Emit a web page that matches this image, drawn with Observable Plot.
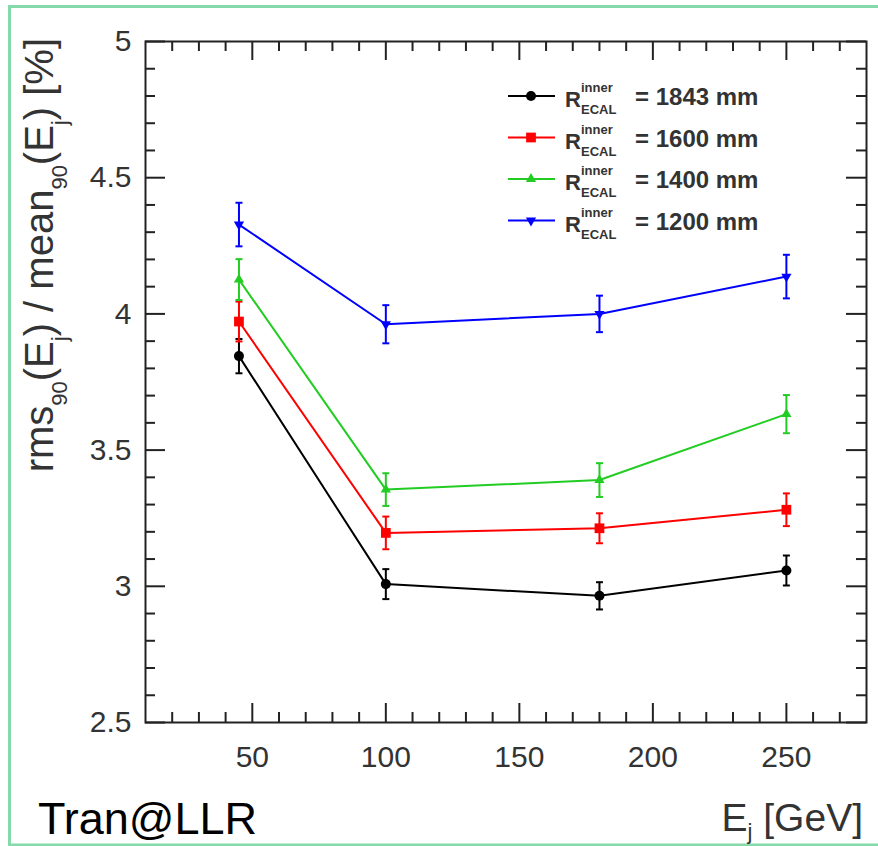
<!DOCTYPE html>
<html>
<head>
<meta charset="utf-8">
<script src="https://cdn.jsdelivr.net/npm/d3@7"></script>
<script src="https://cdn.jsdelivr.net/npm/@observablehq/plot@0.6"></script>
<style>
  html, body { margin: 0; padding: 0; background: #fff; }
  #chart { width: 878px; height: 846px; }
</style>
</head>
<body>
<div id="chart"></div>
<script>
// ---- data ----
const energies = [45, 100, 180, 250];
const seriesNames = ["1843", "1600", "1400", "1200"];
const res1843 = [3.845, 3.008, 2.965, 3.058];
const err1843 = [0.063, 0.055, 0.05, 0.055];
const res1600 = [3.972, 3.196, 3.213, 3.281];
const err1600 = [0.073, 0.06, 0.055, 0.06];
const res1400 = [4.126, 3.355, 3.39, 3.632];
const err1400 = [0.075, 0.06, 0.062, 0.07];
const res1200 = [4.328, 3.962, 4.0, 4.137];
const err1200 = [0.08, 0.07, 0.067, 0.08];
const xMajorTicks = [50, 100, 150, 200, 250];
const xMinorTicks = [20, 30, 40, 60, 70, 80, 90, 110, 120, 130, 140, 160, 170, 180, 190, 210, 220, 230, 240, 260, 270];
const yMajorTicks = [2.5, 3, 3.5, 4, 4.5, 5];
const yMinorTicks = [2.6, 2.7, 2.8, 2.9, 3.1, 3.2, 3.3, 3.4, 3.6, 3.7, 3.8, 3.9, 4.1, 4.2, 4.3, 4.4, 4.6, 4.7, 4.8, 4.9];

const colors = ["#000000", "#ff0000", "#22cc22", "#0000ff"];
const symbols = ["circle", "square", "triangle", "triangle"];
const rotations = [0, 0, 0, 180];
const radii = [5, 5.5, 3.8, 3.8];
const values = [res1843, res1600, res1400, res1200];
const errors = [err1843, err1600, err1400, err1200];

const W = 878, H = 846;
const mL = 145, mR = 12, mT = 41, mB = 124;
const fw = W - mL - mR, fh = H - mT - mB;
const font = "'Liberation Sans', Arial, Helvetica, sans-serif";

const capSymbol = {
  draw(ctx, size) {
    const w = Math.sqrt(size / Math.PI);
    ctx.moveTo(-w, 0);
    ctx.lineTo(w, 0);
  }
};

const marks = [];
// ticks (ROOT style, inward on all four sides)
marks.push(Plot.tickX(xMajorTicks, {x: d => d, insetTop: fh - 19, stroke: "#222", strokeWidth: 2}));
marks.push(Plot.tickX(xMinorTicks, {x: d => d, insetTop: fh - 10, stroke: "#222", strokeWidth: 2}));
marks.push(Plot.tickX(xMajorTicks, {x: d => d, insetBottom: fh - 19, stroke: "#222", strokeWidth: 2}));
marks.push(Plot.tickX(xMinorTicks, {x: d => d, insetBottom: fh - 10, stroke: "#222", strokeWidth: 2}));
marks.push(Plot.tickY(yMajorTicks, {y: d => d, insetRight: fw - 20, stroke: "#222", strokeWidth: 2}));
marks.push(Plot.tickY(yMinorTicks, {y: d => d, insetRight: fw - 10, stroke: "#222", strokeWidth: 2}));
marks.push(Plot.tickY(yMajorTicks, {y: d => d, insetLeft: fw - 20, stroke: "#222", strokeWidth: 2}));
marks.push(Plot.tickY(yMinorTicks, {y: d => d, insetLeft: fw - 10, stroke: "#222", strokeWidth: 2}));

marks.push(Plot.axisX({ticks: xMajorTicks, tickSize: 0, tickPadding: 23, fontSize: 30, fill: "#333", label: null, tickFormat: d => String(d)}));
marks.push(Plot.axisY({ticks: yMajorTicks, tickSize: 0, tickPadding: 14, fontSize: 30, fill: "#333", label: null, tickFormat: d => String(d)}));

seriesNames.forEach((name, i) => {
  const rows = energies.map((e, k) => ({
    x: e, y: values[i][k], lo: values[i][k] - errors[i][k], hi: values[i][k] + errors[i][k]
  }));
  marks.push(Plot.line(rows, {x: "x", y: "y", stroke: colors[i], strokeWidth: 2}));
  marks.push(Plot.ruleX(rows, {x: "x", y1: "lo", y2: "hi", stroke: colors[i], strokeWidth: 2}));
  marks.push(Plot.dot(rows, {x: "x", y: "lo", symbol: capSymbol, r: 3.5, stroke: colors[i], strokeWidth: 2}));
  marks.push(Plot.dot(rows, {x: "x", y: "hi", symbol: capSymbol, r: 3.5, stroke: colors[i], strokeWidth: 2}));
  marks.push(Plot.dot(rows, {x: "x", y: "y", symbol: symbols[i], rotate: rotations[i], r: radii[i], fill: colors[i], stroke: "none"}));
});

marks.push(Plot.frame({stroke: "#222", strokeWidth: 2}));

const svg = Plot.plot({
  width: W, height: H,
  marginLeft: mL, marginRight: mR, marginTop: mT, marginBottom: mB,
  style: {fontFamily: font, background: "#fff", overflow: "visible"},
  x: {domain: [10, 280]},
  y: {domain: [2.5, 5]},
  marks
});
document.getElementById("chart").appendChild(svg);

const s = d3.select(svg);

// green border of the picture
s.append("rect").attr("x", 9.5).attr("y", 6.5).attr("width", W + 10).attr("height", 838.5)
  .attr("fill", "none").attr("stroke", "#86d9ab").attr("stroke-width", 3);

// y-axis title
const yt = s.append("text")
  .attr("transform", "translate(53,38) rotate(-90)")
  .attr("text-anchor", "end")
  .attr("font-family", font).attr("font-size", 40).attr("fill", "#333");
const ySub = 22, ySh = 14;
yt.append("tspan").text("rms");
yt.append("tspan").attr("font-size", ySub).attr("dy", ySh).text("90");
yt.append("tspan").attr("dy", -ySh).text("(E");
yt.append("tspan").attr("font-size", ySub).attr("dy", ySh).text("j");
yt.append("tspan").attr("dy", -ySh).text(") / mean");
yt.append("tspan").attr("font-size", ySub).attr("dy", ySh).text("90");
yt.append("tspan").attr("dy", -ySh).text("(E");
yt.append("tspan").attr("font-size", ySub).attr("dy", ySh).text("j");
yt.append("tspan").attr("dy", -ySh).text(") [%]");

// x-axis title
const xt = s.append("text")
  .attr("x", 863).attr("y", 831)
  .attr("text-anchor", "end")
  .attr("font-family", font).attr("font-size", 39).attr("fill", "#333");
xt.append("tspan").text("E");
xt.append("tspan").attr("font-size", 22).attr("dy", 8).text("j");
xt.append("tspan").attr("dy", -8).text(" [GeV]");

// legend
seriesNames.forEach((name, i) => {
  const y = 96 + i * 41.5;
  const g = s.append("g").attr("text-anchor", "start");
  g.append("line").attr("x1", 508).attr("x2", 555).attr("y1", y).attr("y2", y)
    .attr("stroke", colors[i]).attr("stroke-width", 2);
  const symType = {circle: d3.symbolCircle, square: d3.symbolSquare, triangle: d3.symbolTriangle}[symbols[i]];
  g.append("path").attr("d", d3.symbol(symType, radii[i] * radii[i] * Math.PI)())
    .attr("transform", `translate(531,${y}) rotate(${rotations[i]})`)
    .attr("fill", colors[i]);
  g.append("text").attr("x", 565).attr("y", y + 11).attr("font-family", font).attr("text-anchor", "start")
    .attr("font-size", 22).attr("font-weight", "bold").attr("fill", "#333").text("R");
  g.append("text").attr("x", 581).attr("y", y - 4).attr("font-family", font).attr("text-anchor", "start")
    .attr("font-size", 13).attr("font-weight", "bold").attr("fill", "#333").text("inner");
  g.append("text").attr("x", 581).attr("y", y + 18).attr("font-family", font).attr("text-anchor", "start")
    .attr("font-size", 13).attr("font-weight", "bold").attr("fill", "#333").text("ECAL");
  g.append("text").attr("x", 635).attr("y", y + 9).attr("font-family", font).attr("text-anchor", "start")
    .attr("font-size", 24).attr("font-weight", "bold").attr("fill", "#333").text("= " + name + " mm");
});

// credit
s.append("text").attr("x", 38).attr("y", 834).attr("font-family", font).attr("text-anchor", "start")
  .attr("font-size", 45).attr("fill", "#000").text("Tran@LLR");
</script>
</body>
</html>
